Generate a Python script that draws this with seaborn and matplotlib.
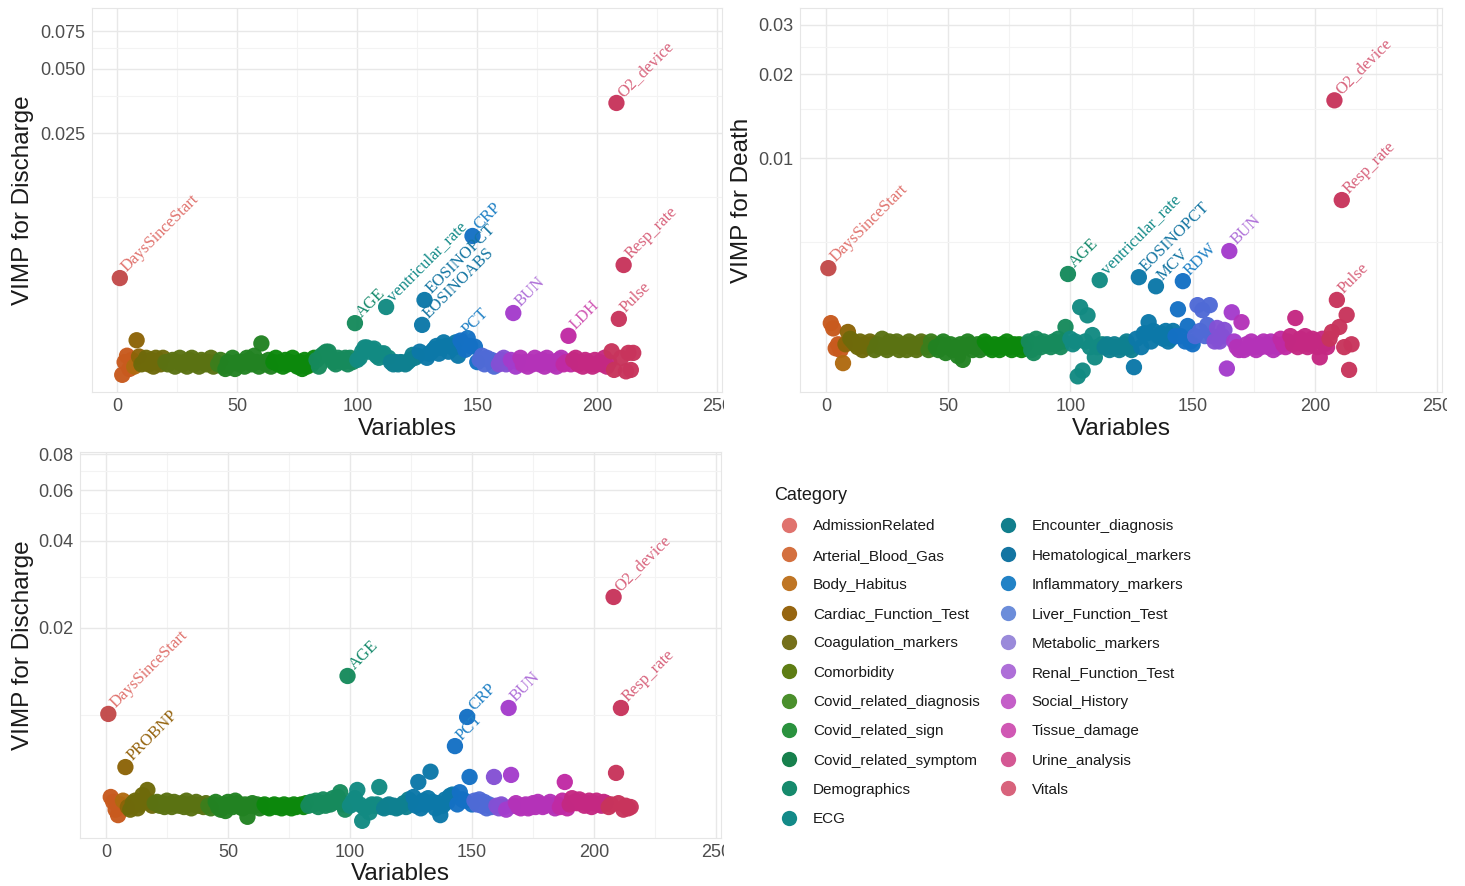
import numpy as np
import pandas as pd
import seaborn as sns
import matplotlib
matplotlib.use("Agg")
import matplotlib.pyplot as plt
import matplotlib.transforms as mtransforms
from matplotlib.lines import Line2D
from matplotlib.ticker import FixedLocator, NullFormatter

# ---------------------------------------------------------------- data
categories = [
    "AdmissionRelated", "Arterial_Blood_Gas", "Body_Habitus", "Cardiac_Function_Test",
    "Coagulation_markers", "Comorbidity", "Covid_related_diagnosis", "Covid_related_sign",
    "Covid_related_symptom", "Demographics", "ECG", "Encounter_diagnosis",
    "Hematological_markers", "Inflammatory_markers", "Liver_Function_Test",
    "Metabolic_markers", "Renal_Function_Test", "Social_History", "Tissue_damage",
    "Urine_analysis", "Vitals",
]
# number of variables in each category (variables are ordered by category)
category_sizes = [1, 5, 1, 2, 10, 22, 3, 20, 18, 17, 14, 12, 17, 8, 8, 5, 4, 18, 4, 16, 10]

# legend / label colours and the deeper colours used for the points
key_colors = [
    "#E0736E", "#D4703F", "#BF7524", "#966510", "#75701A", "#5E7D14", "#4A8F2C",
    "#2A923E", "#17804D", "#168A6C", "#138A88", "#117E8C", "#1475A2", "#2282C6",
    "#6C8DDA", "#9A8ADA", "#AE6FD8", "#C45FC8", "#D058B4", "#D45894", "#D8637C",
]
point_colors = [
    "#C24A4A", "#C85A1E", "#B06A10", "#8C6408", "#6E6A0A", "#5A7212", "#3C7E1C",
    "#228222", "#0C880C", "#168A5C", "#128A82", "#0E8090", "#0C78A8", "#1470C4",
    "#4F6AD6", "#8450D4", "#A43CCC", "#B432B8", "#C02AA4", "#C42882", "#C8345C",
]

# VIMP values in units of 1e-4, variable 1 .. 215
vimp_discharge_a = [
    52.1, 18.3, 21.0, 22.5, 19.5, 21.5, 20.0, 26.6, 22.3, 20.5,
    21.0, 22.0, 20.5, 21.5, 20.0, 22.0, 21.0, 20.5, 22.0, 21.0,
    20.5, 21.0, 21.5, 20.0, 21.0, 22.0, 20.5, 21.0, 20.0, 21.5,
    22.0, 20.5, 21.0, 20.0, 21.5, 21.0, 20.5, 21.0, 22.0, 20.0,
    21.0, 20.5, 21.5, 20.0, 19.5, 21.0, 20.5, 22.0, 19.5, 21.0,
    20.5, 21.0, 20.0, 22.0, 21.5, 20.5, 22.5, 21.0, 20.0, 25.7,
    21.0, 20.5, 21.5, 20.0, 21.0, 22.0, 20.5, 21.0, 20.0, 21.5,
    20.5, 21.0, 22.0, 20.5, 20.0, 21.0, 19.5, 21.5, 20.0, 21.0,
    20.5, 22.0, 21.5, 20.0, 22.5, 23.0, 23.5, 23.5, 22.0, 21.0,
    20.5, 22.0, 21.5, 21.0, 22.0, 20.5, 22.0, 21.0, 32.0, 21.5,
    22.0, 23.5, 24.6, 24.6, 23.5, 24.0, 24.3, 22.5, 22.0, 23.0,
    23.1, 38.1, 22.0, 21.0, 20.5, 21.0, 20.5, 21.0, 20.9, 20.5,
    21.0, 21.5, 22.7, 22.0, 22.5, 23.5, 31.4, 41.1, 22.0, 23.0,
    23.5, 24.2, 25.0, 23.0, 24.5, 26.0, 25.0, 23.5, 25.0, 24.5,
    26.0, 22.5, 26.5, 25.5, 24.0, 27.2, 25.0, 82.1, 24.8, 21.0,
    21.5, 22.5, 20.5, 22.0, 21.5, 21.5, 20.0, 21.0, 20.5, 21.5,
    22.0, 20.5, 21.0, 21.5, 35.7, 20.0, 21.0, 22.0, 20.5, 21.0,
    20.0, 21.0, 20.5, 22.0, 21.0, 20.5, 21.5, 20.0, 22.0, 21.0,
    20.5, 21.0, 20.0, 21.5, 22.0, 20.5, 21.0, 27.9, 20.5, 21.5,
    22.0, 20.5, 21.0, 20.0, 21.5, 21.0, 20.5, 20.0, 21.5, 20.5,
    21.0, 20.5, 22.0, 20.0, 21.0, 23.6, 19.3, 346.0, 33.5, 22.0,
    60.0, 19.0, 23.2, 19.3, 23.2,
]
vimp_death = [
    40.3, 25.6, 24.5, 20.8, 21.5, 20.5, 18.4, 21.5, 23.8, 22.5,
    22.0, 21.5, 21.0, 22.0, 20.5, 21.5, 21.0, 22.0, 21.5, 20.5,
    21.5, 21.0, 22.5, 21.0, 20.5, 22.0, 21.0, 21.5, 22.0, 20.5,
    21.0, 21.5, 20.5, 22.0, 21.0, 21.5, 20.5, 21.0, 22.0, 21.5,
    21.0, 20.5, 22.0, 21.5, 21.0, 20.5, 21.5, 22.0, 20.0, 21.0,
    21.5, 20.5, 21.0, 19.5, 21.5, 18.9, 21.0, 22.0, 21.5, 20.5,
    21.0, 21.5, 20.5, 21.0, 22.0, 21.5, 21.0, 20.5, 21.5, 21.0,
    20.5, 21.5, 21.0, 22.0, 21.0, 20.5, 21.5, 21.0, 21.5, 20.5,
    21.0, 21.5, 22.0, 20.5, 20.0, 22.5, 21.5, 21.0, 22.0, 21.5,
    21.5, 21.0, 22.0, 21.5, 22.5, 21.0, 22.0, 24.8, 38.4, 22.5,
    21.5, 22.0, 16.5, 29.2, 17.3, 22.0, 27.3, 21.0, 23.2, 19.3,
    21.0, 36.5, 21.5, 21.0, 21.5, 20.5, 21.0, 21.5, 21.0, 20.5,
    21.0, 21.5, 22.0, 21.0, 20.5, 17.8, 22.5, 37.4, 21.0, 23.5,
    23.5, 25.8, 22.0, 24.0, 34.7, 23.0, 23.5, 22.5, 24.0, 22.0,
    22.5, 24.0, 23.0, 28.7, 23.0, 36.2, 22.0, 25.0, 22.0, 21.5,
    23.0, 29.7, 24.0, 28.5, 23.0, 25.2, 29.7, 23.0, 22.0, 24.6,
    22.0, 23.0, 24.2, 17.6, 46.4, 28.0, 22.0, 21.0, 20.5, 25.8,
    20.5, 21.5, 21.0, 22.0, 21.0, 20.5, 21.5, 21.0, 22.0, 21.5,
    21.0, 22.0, 20.5, 21.5, 21.0, 22.5, 21.5, 21.0, 22.0, 23.0,
    21.5, 26.7, 21.0, 22.5, 21.5, 23.0, 21.0, 21.5, 22.5, 22.0,
    21.0, 19.3, 22.5, 21.5, 21.0, 22.5, 23.8, 161.0, 31.0, 24.8,
    70.7, 21.0, 27.4, 17.4, 21.5,
]
vimp_discharge_b = [
    100.8, 52.0, 50.0, 47.0, 45.0, 49.0, 50.5, 66.0, 48.0, 47.0,
    49.5, 50.5, 47.5, 49.0, 52.8, 51.0, 55.0, 50.0, 48.5, 49.5,
    50.0, 48.5, 49.5, 48.0, 50.5, 49.0, 48.0, 50.0, 49.0, 48.5,
    49.5, 48.0, 50.5, 49.0, 47.5, 49.0, 50.0, 48.5, 49.0, 48.0,
    49.5, 48.5, 47.5, 49.0, 50.0, 48.0, 47.0, 49.0, 46.5, 50.0,
    49.0, 48.0, 50.5, 49.5, 48.0, 47.5, 49.0, 44.4, 48.5, 49.5,
    48.5, 49.0, 47.5, 48.5, 49.0, 48.0, 47.5, 48.5, 49.0, 48.0,
    48.5, 47.5, 49.0, 48.0, 48.5, 47.5, 49.0, 48.0, 48.5, 49.0,
    48.0, 49.5, 48.5, 50.0, 49.0, 50.5, 48.0, 49.5, 51.0, 48.5,
    50.0, 49.0, 51.5, 50.0, 52.0, 54.0, 49.0, 47.0, 136.4, 48.5,
    50.0, 51.5, 55.0, 49.0, 43.0, 47.5, 48.0, 46.0, 49.0, 48.5,
    49.0, 56.3, 48.0, 47.5, 48.5, 49.0, 48.0, 48.5, 47.5, 48.0,
    48.5, 49.5, 48.0, 51.0, 50.0, 52.0, 48.5, 58.6, 47.5, 50.5,
    49.0, 51.5, 63.6, 50.0, 47.5, 49.5, 45.0, 48.5, 51.0, 50.0,
    52.5, 53.0, 78.0, 49.0, 54.0, 51.0, 50.5, 98.4, 61.0, 49.0,
    50.5, 49.0, 51.0, 48.5, 50.0, 47.5, 49.0, 48.0, 61.0, 48.5,
    47.5, 49.0, 48.0, 47.0, 105.7, 62.0, 48.5, 49.5, 48.0, 47.5,
    48.5, 49.0, 47.5, 48.0, 49.5, 48.0, 50.0, 49.0, 48.0, 48.5,
    49.0, 50.0, 48.5, 47.5, 49.0, 48.0, 50.5, 58.6, 47.5, 49.0,
    51.5, 50.0, 49.5, 51.0, 50.0, 48.5, 49.5, 50.5, 48.0, 49.5,
    50.5, 49.0, 48.5, 50.0, 49.5, 48.0, 49.0, 256.0, 63.0, 49.5,
    105.7, 47.0, 48.5, 47.5, 48.0,
]

# named variables written next to their points
label_idx_discharge_a = [1, 99, 112, 127, 128, 143, 148, 165, 188, 208, 209, 211]
label_txt_discharge_a = ["DaysSinceStart", "AGE", "ventricular_rate", "EOSINOABS", "EOSINOPCT",
                         "PCT", "CRP", "BUN", "LDH", "O2_device", "Pulse", "Resp_rate"]
label_idx_death = [1, 99, 112, 128, 135, 146, 165, 208, 209, 211]
label_txt_death = ["DaysSinceStart", "AGE", "ventricular_rate", "EOSINOPCT", "MCV", "RDW",
                   "BUN", "O2_device", "Pulse", "Resp_rate"]
label_idx_discharge_b = [1, 8, 99, 143, 148, 165, 208, 211]
label_txt_discharge_b = ["DaysSinceStart", "PROBNP", "AGE", "PCT", "CRP", "BUN",
                         "O2_device", "Resp_rate"]

# ---------------------------------------------------------------- style
sns.set_theme(style="white")
plt.rcParams["font.family"] = ["Liberation Sans", "DejaVu Sans"]

W, H = 1465, 886
fig = plt.figure(figsize=(W / 100, H / 100), dpi=100)
fig.patch.set_facecolor("white")

var_index = np.arange(1, sum(category_sizes) + 1)
var_category = np.repeat(categories, category_sizes)
point_pal = dict(zip(categories, point_colors))
key_pal = dict(zip(categories, key_colors))

panels = [
    dict(values=vimp_discharge_a, lab_idx=label_idx_discharge_a, lab_txt=label_txt_discharge_a,
         ylabel="VIMP for Discharge", yticks=[0.025, 0.05, 0.075],
         yticklabels=["0.025", "0.050", "0.075"], yminor=[0.0125, 0.0375, 0.0625],
         ylim=(0.00152, 0.0966), box=(92, 8, 722, 392), ylab_x=34, xlab_y=418, clip_x=724),
    dict(values=vimp_death, lab_idx=label_idx_death, lab_txt=label_txt_death,
         ylabel="VIMP for Death", yticks=[0.01, 0.02, 0.03],
         yticklabels=["0.01", "0.02", "0.03"], yminor=[0.005, 0.015, 0.025],
         ylim=(0.00145, 0.0345), box=(800, 8, 1442, 392), ylab_x=753, xlab_y=418, clip_x=1447),
    dict(values=vimp_discharge_b, lab_idx=label_idx_discharge_b, lab_txt=label_txt_discharge_b,
         ylabel="VIMP for Discharge", yticks=[0.02, 0.04, 0.06, 0.08],
         yticklabels=["0.02", "0.04", "0.06", "0.08"], yminor=[0.01, 0.03, 0.05, 0.07],
         ylim=(0.00375, 0.0813), box=(80, 452, 721, 838), ylab_x=34, xlab_y=863, clip_x=724),
]

XLIM = (-10.6, 252.0)

for p in panels:
    l, t, r, b = p["box"]
    ax = fig.add_axes([l / W, 1 - b / H, (r - l) / W, (b - t) / H])
    df = pd.DataFrame({"Variables": var_index,
                       "VIMP": np.asarray(p["values"]) * 1e-4,
                       "Category": var_category})

    sns.scatterplot(data=df, x="Variables", y="VIMP", hue="Category",
                    hue_order=categories, palette=point_pal, s=138,
                    linewidth=0, alpha=0.97, legend=False, ax=ax, zorder=3)

    ax.set_yscale("log")
    ax.set_xlim(*XLIM)
    ax.set_ylim(*p["ylim"])
    ax.xaxis.set_major_locator(FixedLocator([0, 50, 100, 150, 200, 250]))
    ax.xaxis.set_minor_locator(FixedLocator([25, 75, 125, 175, 225]))
    ax.set_xticklabels(["0", "50", "100", "150", "200", "250"])
    ax.yaxis.set_major_locator(FixedLocator(p["yticks"]))
    ax.yaxis.set_minor_locator(FixedLocator(p["yminor"]))
    ax.yaxis.set_minor_formatter(NullFormatter())
    ax.set_yticklabels(p["yticklabels"])

    ax.grid(which="major", color="#E8E8E8", linewidth=1.0)
    ax.grid(which="minor", color="#F3F3F3", linewidth=0.8)
    ax.set_axisbelow(True)
    ax.tick_params(which="both", length=0, labelsize=13, labelcolor="#4D4D4D")
    ax.tick_params(axis="y", pad=5)
    ax.tick_params(axis="x", pad=4)
    for sp in ax.spines.values():
        sp.set_color("#E6E6E6")
        sp.set_linewidth(0.8)

    ax.set_xlabel("Variables", fontsize=17.5, color="#1A1A1A")
    ax.set_ylabel(p["ylabel"], fontsize=17.5, color="#1A1A1A")
    ax.xaxis.set_label_coords(0.5, -(p["xlab_y"] - b) / (b - t))
    ax.yaxis.set_label_coords((p["ylab_x"] - l) / (r - l), 0.5)

    # variable names next to the most important points
    for i, txt in zip(p["lab_idx"], p["lab_txt"]):
        row = df.iloc[i - 1]
        ax.annotate(txt, (row["Variables"], row["VIMP"]), xytext=(7, 2),
                    textcoords="offset points", rotation=45, rotation_mode="anchor",
                    ha="left", va="bottom", fontsize=12, family="Liberation Serif",
                    color=key_pal[row["Category"]], zorder=4)
    p["ax"] = ax

# legend with all categories
handles = [Line2D([], [], marker="o", linestyle="", markersize=11,
                  markerfacecolor=c, markeredgewidth=0) for c in key_colors]
leg = fig.legend(handles, categories, ncol=2, loc="upper left",
                 bbox_to_anchor=(774 / W, 1 - 487 / H), title="Category",
                 frameon=False, fontsize=11, title_fontsize=13, labelspacing=1.0,
                 handlelength=1.96, handletextpad=0.59, columnspacing=0.85,
                 borderpad=0, borderaxespad=0, alignment="left")
for txt in leg.get_texts():
    txt.set_color("#1A1A1A")
leg.get_title().set_color("#1A1A1A")

# the rightmost x tick label is cut by the panel's cell boundary
fig.canvas.draw()
for p in panels:
    box = mtransforms.TransformedBbox(
        mtransforms.Bbox.from_extents(0, 0, p["clip_x"] / W, 1), fig.transFigure)
    for lab in p["ax"].get_xticklabels():
        lab.set_clip_on(True)
        lab.set_clip_box(box)

fig.savefig("out.png", dpi=100)
